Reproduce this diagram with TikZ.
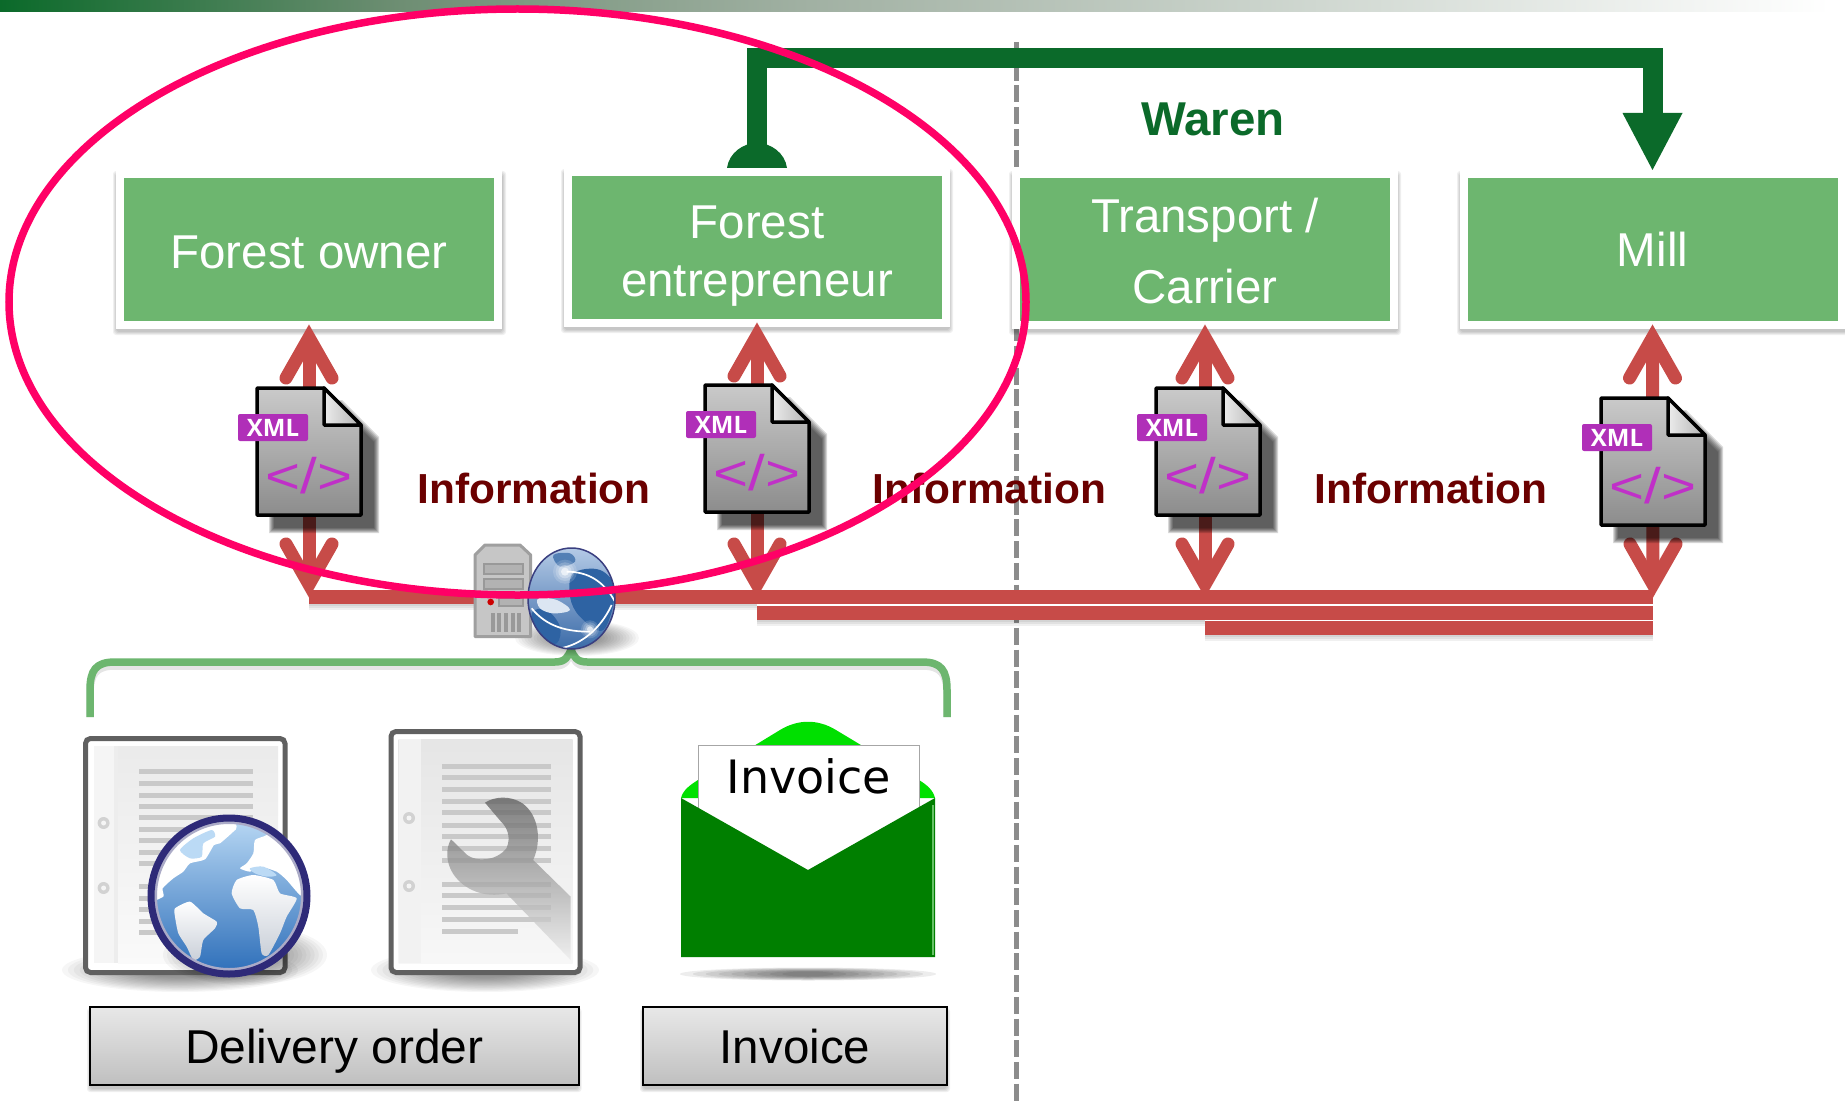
\documentclass[tikz,border=0pt]{standalone}
\usepackage{graphicx}
\usepackage{fontspec}
\setmainfont{Liberation Sans}
\newfontfamily\xmlfont{Open Sans}
\newfontfamily\dejavu{DejaVu Sans}
\usetikzlibrary{calc}
\definecolor{boxgreen}{HTML}{6DB66F}
\definecolor{wgreen}{HTML}{0B6A2A}
\definecolor{redl}{HTML}{C74B48}
\definecolor{infored}{HTML}{6B0000}
\definecolor{pinkr}{HTML}{FF0066}
\definecolor{xmlpur}{HTML}{B02FB8}
\definecolor{codepur}{HTML}{C030C8}
\definecolor{navy}{HTML}{2E2A78}
\definecolor{barq}{HTML}{6E8E73}
\definecolor{barmid}{HTML}{A0B0A2}
\definecolor{flapg}{HTML}{00E000}
\definecolor{envg}{HTML}{007F00}
\definecolor{oceantop}{HTML}{BBDAF5}
\definecolor{oceanbot}{HTML}{2A6CB8}
\definecolor{smalltop}{HTML}{B4CAE6}
\definecolor{smallbot}{HTML}{3B6BA8}
\definecolor{smallland}{HTML}{2E63A3}
\definecolor{smalllight}{HTML}{DCE6F2}
\definecolor{smallring}{HTML}{3A3F80}
\definecolor{landbot}{HTML}{C9CFD8}
\tikzset{
  gbox/.style={fill=boxgreen,draw=white,line width=8pt,outer sep=0pt,inner sep=0pt,
    minimum width=378pt,minimum height=151pt,text=white,align=center,
    font=\fontsize{47.5}{58}\selectfont},
  graybox/.style={draw=black,line width=2pt,top color=gray!18,bottom color=gray!50,
    outer sep=0pt,inner sep=0pt,minimum height=78pt,text height=35pt,text depth=0pt,
    font=\fontsize{47.5}{50}\selectfont},
  infotext/.style={text=infored,anchor=base,inner sep=0pt,font=\fontsize{42}{42}\selectfont\bfseries},
  redshaft/.style={draw=redl,line width=13pt,shorten <=15pt,shorten >=15pt},
  redhead/.style={draw=redl,line width=13pt,line cap=round,line join=miter,miter limit=10},
  busline/.style={draw=redl,line width=14pt},
  conn/.style={draw=wgreen,line width=20pt,line join=miter},
  bracket/.style={line width=7.5pt},
}
\newcommand{\softshad}[5]{%
  \foreach \k in {0,1,2,3}{%
    \fill[black,opacity=.06,rounded corners=3pt]
      ({#1-\k},{#2-\k+#5}) rectangle ({#3+\k},{#4+\k+#5});}}
\newcommand{\softell}[4]{%
  \foreach \k in {1,.95,.9,.85,.8,.75,.7,.65,.6,.55,.5,.45,.4,.35}{%
    \fill[black,opacity=.035] (#1,#2) ellipse ({#3*\k} and {#4*\k});}}
\newcommand{\redlink}[2]{%
  \draw[redshaft] (#1) -- (#2.south);
  \draw[redhead] ($(#2.south)+(-23,53)$) -- ($(#2.south)+(0,12.6)$) -- ($(#2.south)+(23,53)$);
  \draw[redhead] ($(#1)+(-23,-53)$) -- ($(#1)+(0,-12.6)$) -- ($(#1)+(23,-53)$);}
\newcommand{\xmldoc}[3]{%
  \begin{scope}[shift={(#2,#3)}]
    \foreach \k in {-2,-1,0,1,2,3}{%
      \fill[black,opacity=.15] ({272-\k},{403-\k}) -- ({339+\k},{403-\k}) -- ({376+\k},{440-\k}) -- ({376+\k},{530+\k}) -- ({272-\k},{530+\k}) -- cycle;}
    \draw[draw=black,line width=3.5pt,line join=round,top color=gray!42,bottom color=gray!90]
      (257,388) -- (324,388) -- (361,425) -- (361,515) -- (257,515) -- cycle;
    \draw[draw=black,line width=3.5pt,line join=round,left color=gray!15,right color=gray!60]
      (324,388) -- (361,425) -- (324,425) -- cycle;
    \node (tag#1) [fill=xmlpur,rounded corners=2pt,text=white,inner sep=0pt,minimum width=70pt,minimum height=27pt,
      font=\fontsize{24}{24}\xmlfont\bfseries] at (273,427.5) {XML};
    \node (code#1) [text=codepur,inner sep=0pt,font=\fontsize{50}{50}\selectfont] at (309,476) {\scalebox{1.2}[1]{</>}};
  \end{scope}}
\newcommand{\bracketpath}{(brl) -- (90,690) .. controls (90,670) and (96,662) .. (115,662) -- (555,662)
  .. controls (566,662) and (568,656) .. (brmid)
  .. controls (574,656) and (576,662) .. (587,662) -- (922,662)
  .. controls (941,662) and (947,670) .. (947,690) -- (brr)}
\begin{document}
\begin{tikzpicture}[x=1pt,y=-1pt]
\useasboundingbox (0,0) rectangle (1845,1105);
\fill[white] (0,0) rectangle (1845,1105);
% top bar
\shade[left color=wgreen,right color=barq] (0,0) rectangle (400,12);
\shade[left color=barq,right color=barmid] (400,0) rectangle (800,12);
\shade[left color=barmid,right color=white] (800,0) rectangle (1830,12);
% divider
\coordinate (divtop) at (1016,42);
\coordinate (divbot) at (1016,1105);
\draw[draw=gray!90,line width=5pt,dash pattern=on 17pt off 4.7pt] (divtop) -- (divbot);
% green boxes
\softshad{116}{171}{503}{329}{3}
\softshad{564}{169}{950}{327}{3}
\softshad{1012}{171}{1398}{329}{3}
\softshad{1460}{171}{1850}{329}{3}
\node[gbox] (owner) at (309,249.5) {\rule{0pt}{38pt}Forest owner};
\node[gbox] (ent) at (757,247.5) {\rule{0pt}{50pt}Forest\\entrepreneur};
\node[gbox] (trans) at (1205,249.5) {\rule{0pt}{37pt}Transport /\\[13pt]Carrier};
\node[gbox] (mill) at (1652.5,249.5) {Mill};
% goods connector
\coordinate (wa) at ($(ent.north)+(0,-4)$);
\coordinate (wb) at ($(mill.north)+(0,-4)$);
\coordinate (wbase) at ($(wb)+(0,-57)$);
\fill[wgreen] ($(wa)+(-30,0)$) .. controls ($(wa)+(-28,-15)$) and ($(wa)+(-14,-25)$) .. ($(wa)+(0,-25)$)
  .. controls ($(wa)+(14,-25)$) and ($(wa)+(28,-15)$) .. ($(wa)+(30,0)$) -- cycle;
\draw[conn] ($(wa)+(0,-10)$) -- ($(wa)+(0,-110)$) -- ($(wb)+(0,-112)$) -- (wbase);
\fill[wgreen] ($(wbase)+(-30,0)$) -- (wb) -- ($(wbase)+(30,0)$) -- cycle;
\node[anchor=base,inner sep=0pt,text=wgreen,font=\fontsize{47.5}{47.5}\selectfont\bfseries] (waren) at (1213,136) {Waren};
% red buses
\coordinate (busA) at (309,597);
\coordinate (busB) at (757,597);
\coordinate (busC) at (1205,597);
\coordinate (busD) at (1653,597);
\coordinate (endB) at (1653,612.5);
\coordinate (endC) at (1653,628);
\foreach \k in {2,4,6}{\fill[black,opacity=.06] (309,604) rectangle (757,{604+\k});
  \fill[black,opacity=.06] (1205,635) rectangle (1653,{635+\k});
  \fill[black,opacity=.06] (757,619.5) rectangle (1205,{619.5+\k});}
\redlink{busA}{owner}
\redlink{busB}{ent}
\redlink{busC}{trans}
\redlink{busD}{mill}
\draw[busline] (busA) -- (busD);
\draw[busline] (busB |- endB) -- (endB);
\draw[busline] (busC |- endC) -- (endC);
% bracket
\coordinate (brmid) at (571,650);
\coordinate (brl) at (90,717);
\coordinate (brr) at (947,717);
\begin{scope}[yshift=-4pt]
  \draw[bracket,draw=black,opacity=.1] \bracketpath;
\end{scope}
\draw[bracket,draw=boxgreen] \bracketpath;
% XML documents
\xmldoc{1}{0}{0}
\xmldoc{2}{448}{-3}
\xmldoc{3}{899}{0}
\xmldoc{4}{1344}{10}
% server and globe
\softell{577}{638}{62}{18}
\begin{scope}[shift={(460,530)},scale=1/3]
  \draw[draw=gray!75,line width=3pt,fill=gray!45,line join=round]
    (45,75) -- (75,45) -- (180,45) -- (212,75) -- (212,320) -- (45,320) -- cycle;
  \draw[draw=gray!80,line width=2pt,fill=gray!60] (72,103) rectangle (188,133);
  \draw[draw=gray!80,line width=2pt,fill=gray!60] (72,148) rectangle (188,178);
  \draw[draw=gray!80,line width=2pt,fill=gray!60] (118,203) rectangle (188,228);
  \fill[red!80!black] (92,216) circle (10);
  \foreach \u in {98,118,138,158,178}{\fill[gray!80] ({\u-6},250) rectangle ({\u+6},305);}
\end{scope}
\begin{scope}
  \path[clip] (571.5,598.5) ellipse (43.5 and 50.5);
  \shade[top color=smalltop,bottom color=smallbot] (528,548) rectangle (615,649);
  \begin{scope}[shift={(460,530)},scale=1/3]
    \fill[smallland,opacity=.7] plot[smooth cycle,tension=.6] coordinates {(280,75) (330,70) (345,95) (300,110)};
    \fill[smallland] plot[smooth cycle,tension=.6] coordinates {(340,130) (420,120) (465,180) (430,300) (360,260) (330,200)};
    \fill[smallland] plot[smooth cycle,tension=.6] coordinates {(215,250) (260,240) (300,290) (290,340) (240,330)};
    \fill[smalllight] plot[smooth cycle,tension=.6] coordinates {(235,205) (290,210) (330,240) (280,250) (240,235)};
    \draw[white,line width=1.7pt] (215,235) .. controls (260,290) and (320,305) .. (390,305);
    \draw[white,line width=1.7pt] (320,125) .. controls (380,125) and (430,150) .. (465,215);
    \draw[white,line width=1.7pt] (300,355) .. controls (360,345) and (420,300) .. (455,225);
    \foreach \r/\o in {36/.15,28/.2,20/.3,12/.6}{\fill[white,opacity=\o] (315,125) circle (\r);
      \fill[white,opacity=\o] (390,298) circle ({\r*.75});}
  \end{scope}
\end{scope}
\draw[draw=smallring,line width=1.5pt] (571.5,598.5) ellipse (43.5 and 50.5);
% document icon 1
\softell{180}{970}{118}{22}
\draw[draw=gray!75!black,line width=5pt,fill=white,rounded corners=5pt] (85.5,738.5) rectangle (285,972.5);
\fill[gray!14] (94,746) rectangle (278,963);
\shade[top color=gray!16,bottom color=gray!4] (118,746) rectangle (278,963);
\fill[gray!8] (94,746) rectangle (114,963);
\foreach \v in {395,430,465,498,533,567,602,636,670,740,775,808,843,878}{%
  \fill[gray!42] (139,{640+\v/3-2.5}) rectangle (253,{640+\v/3+2.5});}
\foreach \v in {823,888}{\fill[gray!35] (103.6,\v) circle (6);\fill[gray!8] (103.6,\v) circle (2.5);}
% globe on document 1
\softell{245}{955}{82}{30}
\begin{scope}
  \path[clip] (229,896) circle (81);
  \shade[top color=oceantop,bottom color=oceanbot] (148,815) rectangle (310,977);
  \begin{scope}[shift={(140,800)},scale=1/3]
    \shade[top color=white,bottom color=white] plot[smooth cycle,tension=.35] coordinates {(20,300) (70,290) (68,265) (100,235) (130,215) (150,190) (195,178)
      (222,135) (240,130) (280,95) (290,80) (260,20) (150,20) (10,150)};
    \fill[oceantop] plot[smooth cycle,tension=.4] coordinates {(120,150) (160,115) (215,90) (225,110) (190,130) (185,170) (150,175)};
    \shade[top color=white,bottom color=landbot] plot[smooth cycle,tension=.35] coordinates {(105,325) (150,305) (190,340) (230,365) (225,385) (190,420) (180,470) (160,480) (140,440) (115,400) (105,350)};
    \shade[top color=white,bottom color=landbot] plot[smooth cycle,tension=.35] coordinates {(275,280) (290,240) (340,225) (400,240) (420,280) (470,295) (440,350) (420,400) (385,465) (365,460) (355,380) (340,330) (300,325)};
    \shade[top color=white,bottom color=white] plot[smooth cycle,tension=.35] coordinates {(300,205) (320,190) (340,160) (345,120) (380,105) (430,60) (540,200) (520,300) (480,285) (440,240) (410,215) (360,200) (330,215)};
    \fill[oceantop] plot[smooth cycle,tension=.5] coordinates {(330,205) (370,200) (410,225) (380,230) (345,220)};
  \end{scope}
  \draw[draw=blue!20!gray!55,line width=6pt] (229,896) circle (75);
\end{scope}
\draw[draw=navy,line width=7pt] (229,896) circle (78);
% document icon 2
\softell{485}{970}{114}{22}
\draw[draw=gray!75!black,line width=5pt,fill=white,rounded corners=5pt] (391,731.5) rectangle (580,972.5);
\shade[top color=gray!20,bottom color=gray!6] (398.6,739) rectangle (572.5,963);
\fill[gray!10] (398.6,739) rectangle (421,963);
\foreach \v in {378,413,448,483,518,555,590,625,660,732,767,802,837}{%
  \fill[gray!42] (442,{640+\v/3-2.5}) rectangle (551,{640+\v/3+2.5});}
\fill[gray!42] (442,{640+873/3-2.5}) rectangle (518,{640+873/3+2.5});
\foreach \v in {818,886}{\fill[gray!35] (409,\v) circle (6);\fill[gray!8] (409,\v) circle (2.5);}
\begin{scope}[shift={(60,640)},xscale=1/2.8,yscale=1/3]
  \shade[opacity=.75,top color=black!65,bottom color=gray!15]
    (1190,488) .. controls (1215,470) and (1260,465) .. (1295,490)
    .. controls (1340,525) and (1350,600) .. (1325,660)
    -- (1430,770) -- (1430,960) -- (1250,760)
    .. controls (1190,775) and (1130,750) .. (1100,700)
    .. controls (1080,665) and (1080,625) .. (1095,598)
    -- (1140,645) .. controls (1165,665) and (1220,665) .. (1250,625)
    .. controls (1265,590) and (1250,560) .. (1235,545) -- cycle;
\end{scope}
% envelope
\foreach \k in {1,.9,.8,.7,.6,.5,.4,.3,.2}{\fill[black,opacity=.07] (808,974) ellipse ({128*\k} and {6.5*(\k+.3)/1.3});}
\fill[flapg] (681,798) .. controls (683,790) and (690,785) .. (698,780) -- (780,730)
  .. controls (798,719) and (818,719) .. (836,730) -- (919,780) .. controls (927,785) and (933,790) .. (935,798) -- cycle;
\node[draw=gray!70,line width=.8pt,fill=white,anchor=north west,inner sep=0pt,minimum width=221pt,minimum height=125pt] (letter) at (698,745) {};
\fill[envg] (681,798) -- (808,870) -- (935,798) -- (935,957) -- (681,957) -- cycle;
\draw[draw=green!60!black!60!white,line width=1.2pt] (933,805) -- (933,955);
\node[anchor=base,inner sep=0pt,font=\fontsize{46}{46}\dejavu] (lettertext) at (809,793) {Invoice};
% caption boxes
\softshad{90}{1007}{578.6}{1085}{4}
\softshad{643}{1007}{947}{1085}{4}
\node[graybox,minimum width=488.6pt] (delivery) at (334.3,1046) {\scalebox{1.01}[1]{Delivery order}};
\node[graybox,minimum width=304pt] (invoice) at (795,1046) {Invoice};
% information labels
\node[infotext] (info1) at (534,503) {\scalebox{1.01}[1]{Information}};
\node[infotext] (info2) at (989.6,503) {\scalebox{1.01}[1]{Information}};
\node[infotext] (info3) at (1431,503) {\scalebox{1.01}[1]{Information}};
% highlight
\draw[draw=pinkr,line width=7.5pt] (517.5,302) ellipse (508.5 and 293);
\end{tikzpicture}
\end{document}
